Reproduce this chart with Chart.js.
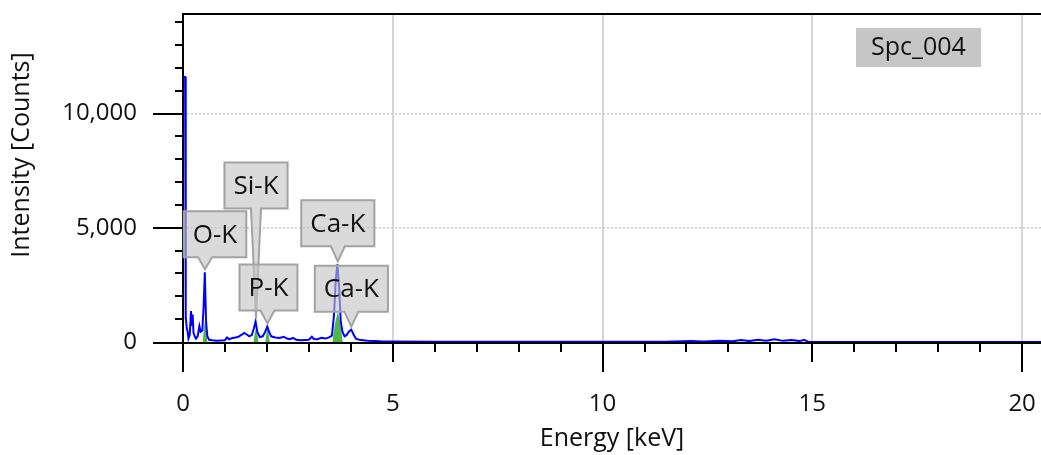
<!DOCTYPE html>
<html>
<head>
<meta charset="utf-8">
<script src="https://cdn.jsdelivr.net/npm/chart.js@4.4.1/dist/chart.umd.min.js"></script>
<style>
  html, body { margin: 0; padding: 0; background: #fff; }
</style>
</head>
<body>
<canvas id="spectrumChart" width="1041" height="455"></canvas>
<script>
/*---- EDS spectrum Spc_004 ----- */

// measured spectrum (keV / counts)
var energy = [0.00, 0.05, 0.06, 0.07, 0.09, 0.11, 0.13, 0.16, 0.19, 0.21, 0.23, 0.25, 0.28, 0.31,
  0.35, 0.39, 0.42, 0.46, 0.49, 0.52, 0.55, 0.58, 0.62, 0.70, 0.80, 0.90, 1.00, 1.05, 1.10,
  1.18, 1.25, 1.32, 1.40, 1.46, 1.52, 1.58, 1.64, 1.69, 1.73, 1.77, 1.83, 1.90, 1.96, 2.01,
  2.05, 2.10, 2.20, 2.30, 2.40, 2.48, 2.55, 2.62, 2.70, 2.80, 2.90, 3.00, 3.07, 3.12, 3.20,
  3.30, 3.40, 3.48, 3.55, 3.60, 3.64, 3.68, 3.72, 3.76, 3.80, 3.85, 3.90, 3.95, 4.01, 4.06,
  4.12, 4.20, 4.40, 4.70, 5.00, 6.00, 8.00, 10.00, 11.50, 12.10, 12.40, 12.80, 13.10, 13.30, 13.50,
  13.70, 13.90, 14.10, 14.30, 14.50, 14.70, 14.80, 14.90, 15.20, 20.45];
var counts = [11600, 11600, 1000, 1100, 600, 450, 150, 300, 1350, 700, 1200, 400, 250, 150,
  250, 700, 450, 500, 1500, 3050, 900, 250, 100, 80, 60, 70, 80, 200, 120,
  180, 200, 230, 320, 400, 330, 250, 300, 600, 900, 450, 220, 250, 450, 680,
  450, 250, 200, 180, 230, 150, 120, 180, 100, 80, 90, 100, 230, 130, 120,
  180, 150, 200, 280, 1200, 2700, 3400, 2400, 900, 450, 250, 300, 450, 540, 350,
  150, 100, 60, 30, 20, 15, 10, 10, 15, 40, 20, 50, 30, 90, 40,
  100, 60, 120, 50, 90, 40, 100, 10, 0, 0];

// fitted element peaks (green)
var oFitEnergy = [0.47, 0.50, 0.525, 0.55, 0.58];
var oFitCounts = [0, 650, 950, 650, 0];
var siFitEnergy = [1.68, 1.71, 1.74, 1.77, 1.80];
var siFitCounts = [0, 400, 600, 400, 0];
var pFitEnergy = [1.96, 1.99, 2.013, 2.04, 2.07];
var pFitCounts = [0, 400, 600, 400, 0];
var caFitEnergy = [3.56, 3.62, 3.69, 3.75, 3.81];
var caFitCounts = [0, 800, 1330, 800, 0];

// peak labels
var peakNames = ["O-K", "Si-K", "P-K", "Ca-K", "Ca-K"];
var peakEnergies = [0.525, 1.740, 2.013, 3.690, 4.013];

var xTickLabels = [0, 5, 10, 15, 20];
var yTickLabels = [0, 5000, 10000];
var spectrumName = "Spc_004";

// callout placement (pixels): box shift and gap between box and peak
var calloutLayout = [
  { dx: 10, lift: 12 },
  { dx: 0, lift: 110 },
  { dx: 1, lift: 13 },
  { dx: 0, lift: 15 },
  { dx: 0, lift: 15 }
];

var FONT = "'Open Sans', 'Noto Sans', sans-serif";

function toPoints(xs, ys) {
  return xs.map(function (x, i) { return { x: x, y: ys[i] }; });
}

function fitSet(xs, ys) {
  return {
    data: toPoints(xs, ys),
    borderWidth: 0,
    backgroundColor: '#4db848',
    fill: 'origin',
    pointRadius: 0,
    order: 1
  };
}

function peakTop(e) {
  var best = 0;
  for (var i = 0; i < energy.length; i++) {
    if (Math.abs(energy[i] - e) <= 0.04 && counts[i] > best) best = counts[i];
  }
  return best;
}

// fixed axis boxes, no extra label padding around the plot
function fixBox(size) {
  return function (scale) {
    if (scale.isHorizontal()) scale.height = size; else scale.width = size;
    scale.paddingTop = 0; scale.paddingBottom = 0;
    scale.paddingLeft = 0; scale.paddingRight = 0;
  };
}

function stepTicks(step) {
  return function (scale) {
    var t = [];
    for (var v = scale.min; v <= scale.max; v += step) t.push({ value: v });
    scale.ticks = t;
  };
}

var edsPlugin = {
  id: 'edsDecor',
  beforeDatasetsDraw: function (chart) {
    var ctx = chart.ctx, xs = chart.scales.x, ys = chart.scales.y, a = chart.chartArea;
    var x0 = xs.getPixelForValue(0), y0 = ys.getPixelForValue(0);
    ctx.save();
    ctx.strokeStyle = '#000';
    ctx.lineWidth = 2;
    ctx.beginPath();
    ctx.moveTo(a.left, a.top + 1); ctx.lineTo(a.right, a.top + 1);
    ctx.moveTo(x0, a.top); ctx.lineTo(x0, y0 + 30);
    ctx.moveTo(x0 - 30, y0 + 1); ctx.lineTo(a.right, y0 + 1);
    for (var v = 1000; v <= ys.max; v += 1000) {
      var yl = yTickLabels.indexOf(v) >= 0 ? 30 : 8;
      var py = Math.round(ys.getPixelForValue(v));
      ctx.moveTo(x0 - yl, py); ctx.lineTo(x0, py);
    }
    for (var e = 1; e <= xs.max; e++) {
      var xl = e % 10 === 0 ? 30 : (e % 5 === 0 ? 20 : 10);
      var px = Math.round(xs.getPixelForValue(e));
      ctx.moveTo(px, y0); ctx.lineTo(px, y0 + xl);
    }
    ctx.stroke();
    ctx.restore();
  },
  afterDatasetsDraw: function (chart) {
    var ctx = chart.ctx, xs = chart.scales.x, ys = chart.scales.y, a = chart.chartArea;
    ctx.save();

    // peak callouts
    ctx.font = '26px ' + FONT;
    ctx.textAlign = 'center';
    ctx.textBaseline = 'middle';
    for (var i = 0; i < peakNames.length; i++) {
      var lay = calloutLayout[i];
      var tx = xs.getPixelForValue(peakEnergies[i]);
      var ty = ys.getPixelForValue(peakTop(peakEnergies[i])) - 3;
      var w = ctx.measureText(peakNames[i]).width + 18;
      var h = 46;
      var cx = tx + lay.dx;
      var bottom = ty - lay.lift;
      var left = Math.max(a.left, cx - w / 2);
      cx = left + w / 2;
      var half = lay.lift > 40 ? 5 : 7;
      ctx.beginPath();
      ctx.moveTo(left, bottom - h);
      ctx.lineTo(left + w, bottom - h);
      ctx.lineTo(left + w, bottom);
      ctx.lineTo(tx + half, bottom);
      ctx.lineTo(tx, ty);
      ctx.lineTo(tx - half, bottom);
      ctx.lineTo(left, bottom);
      ctx.closePath();
      ctx.fillStyle = 'rgba(195,195,195,0.62)';
      ctx.fill();
      ctx.strokeStyle = '#a3a3a3';
      ctx.lineWidth = 2;
      ctx.stroke();
      ctx.fillStyle = '#111';
      ctx.fillText(peakNames[i], cx, bottom - h / 2 + 1);
    }

    // spectrum name box
    ctx.fillStyle = '#c6c6c6';
    ctx.fillRect(a.right - 185, a.top + 15, 125, 39);
    ctx.fillStyle = '#111';
    ctx.font = '25px ' + FONT;
    ctx.fillText(spectrumName, a.right - 185 + 62.5, a.top + 15 + 20);

    // y axis title
    ctx.translate(22, 155);
    ctx.rotate(-Math.PI / 2);
    ctx.font = '25px ' + FONT;
    ctx.fillText('Intensity [Counts]', 0, 0);
    ctx.restore();
  }
};

var ctx = document.getElementById('spectrumChart').getContext('2d');
var spectrumChart = new Chart(ctx, {
  type: 'line',
  data: {
    datasets: [{
      label: spectrumName,
      data: toPoints(energy, counts),
      borderColor: '#0000ff',
      borderWidth: 2,
      pointRadius: 0,
      tension: 0,
      fill: false,
      order: 0
    },
    fitSet(oFitEnergy, oFitCounts),
    fitSet(siFitEnergy, siFitCounts),
    fitSet(pFitEnergy, pFitCounts),
    fitSet(caFitEnergy, caFitCounts)]
  },
  options: {
    responsive: false,
    animation: false,
    layout: { padding: { top: 13, right: 0, left: 0, bottom: 0 } },
    plugins: {
      legend: { display: false },
      tooltip: { enabled: false }
    },
    scales: {
      x: {
        type: 'linear',
        min: 0,
        max: 20.45,
        afterBuildTicks: stepTicks(1),
        afterFit: fixBox(113),
        ticks: {
          autoSkip: false,
          maxRotation: 0,
          padding: 48,
          color: '#111',
          font: { family: FONT, size: 24 },
          callback: function (v) { return xTickLabels.indexOf(Math.round(v)) >= 0 && Math.abs(v - Math.round(v)) < 1e-6 ? String(Math.round(v)) : ''; }
        },
        grid: {
          drawTicks: false,
          lineWidth: 2,
          color: function (c) {
            var v = c.tick ? c.tick.value : 0;
            return v > 0 && xTickLabels.indexOf(v) >= 0 ? '#d6d6d6' : 'rgba(0,0,0,0)';
          }
        },
        border: { display: false },
        title: {
          display: true,
          text: 'Energy [keV]',
          color: '#111',
          font: { family: FONT, size: 25 },
          padding: { top: 0, bottom: 1 }
        }
      },
      y: {
        type: 'linear',
        min: 0,
        max: 14400,
        afterBuildTicks: stepTicks(1000),
        afterFit: fixBox(183),
        ticks: {
          autoSkip: false,
          padding: 46,
          color: '#111',
          font: { family: FONT, size: 24 },
          callback: function (v) { return yTickLabels.indexOf(v) >= 0 ? v.toLocaleString('en-US') : ''; }
        },
        grid: {
          drawTicks: false,
          lineWidth: 1.5,
          color: function (c) {
            var v = c.tick ? c.tick.value : 0;
            return v > 0 && yTickLabels.indexOf(v) >= 0 ? '#c9c9c9' : 'rgba(0,0,0,0)';
          }
        },
        border: { display: false, dash: [2, 2] }
      }
    }
  },
  plugins: [edsPlugin]
});
</script>
</body>
</html>
